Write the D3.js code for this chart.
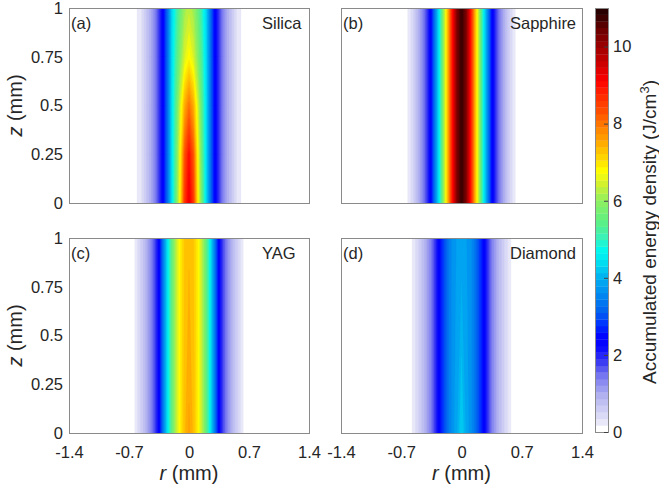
<!DOCTYPE html>
<html>
<head>
<meta charset="utf-8">
<script src="https://cdn.jsdelivr.net/npm/d3@7"></script>
<style>
  body { margin: 0; background: #fff; }
  svg { font-family: "Liberation Sans", Arial, sans-serif; }
</style>
</head>
<body>
<script>
var width = 659,
  height = 491;

// radial samples (mm); profiles are symmetric about r = 0
var rSamples = [0, 0.05, 0.1, 0.15, 0.2, 0.25, 0.3, 0.35, 0.4, 0.45, 0.5, 0.55, 0.6, 0.65, 0.7];

var materials = ["Silica", "Sapphire", "YAG", "Diamond"];
var tags = ["(a)", "(b)", "(c)", "(d)"];

// accumulated energy density (J/cm^3), one row per z level
var zSilica = [0, 0.25, 0.5, 0.75, 1];
var silica = [
  [9.3, 8.6, 6.9, 5.6, 4.4, 3.3, 2.4, 1.8, 1.3, 0.95, 0.65, 0.35, 0.2, 0, 0],
  [9.0, 8.3, 6.8, 5.5, 4.4, 3.3, 2.4, 1.8, 1.3, 0.95, 0.65, 0.35, 0.2, 0, 0],
  [8.0, 7.5, 6.5, 5.4, 4.4, 3.3, 2.4, 1.8, 1.3, 0.95, 0.65, 0.35, 0.2, 0, 0],
  [6.8, 6.5, 5.9, 5.2, 4.35, 3.3, 2.4, 1.8, 1.3, 0.95, 0.65, 0.35, 0.2, 0, 0],
  [6.3, 6.1, 5.6, 5.0, 4.3, 3.3, 2.4, 1.8, 1.3, 0.95, 0.65, 0.35, 0.2, 0, 0]
];
var zSapphire = [0, 1];
var sapphire = [
  [10.8, 10.3, 9.1, 7.6, 6.2, 4.8, 3.6, 2.5, 1.8, 1.3, 0.9, 0.55, 0.3, 0.05, 0],
  [10.8, 10.3, 9.1, 7.6, 6.2, 4.8, 3.6, 2.5, 1.8, 1.3, 0.9, 0.55, 0.3, 0.05, 0]
];
var zYag = [0, 1];
var yag = [
  [7.6, 7.35, 6.9, 6.3, 5.5, 4.5, 3.4, 2.3, 1.7, 1.25, 0.9, 0.6, 0.35, 0.08, 0],
  [7.35, 7.25, 6.9, 6.3, 5.5, 4.5, 3.4, 2.3, 1.7, 1.25, 0.9, 0.6, 0.35, 0.08, 0]
];
var zDiamond = [0, 1];
var diamond = [
  [4.3, 3.95, 3.7, 3.4, 2.95, 2.5, 1.9, 1.4, 1.05, 0.75, 0.5, 0.28, 0.05, 0, 0],
  [3.85, 3.8, 3.7, 3.4, 2.95, 2.5, 1.9, 1.4, 1.05, 0.75, 0.5, 0.28, 0.05, 0, 0]
];

var rTicks = [-1.4, -0.7, 0, 0.7, 1.4];
var zTicks = [0, 0.25, 0.5, 0.75, 1];
var cbTicks = [0, 2, 4, 6, 8, 10];
var cbMax = 11,
  nLevels = 64;

// white-to-jet colormap
var cmapStops = [0, 0.3, 0.96, 1.48, 1.83, 2.2, 2.45, 2.78, 3.12, 3.64, 4.0, 4.42, 4.7, 5.1, 5.5, 6.0, 6.42, 6.76, 7.1, 7.45, 7.9, 8.3, 8.75, 9.1, 9.53, 9.97, 10.4, 10.83, 11];
var cmapColors = ["#ffffff", "#e4e4f8", "#b0b0f0", "#7474f0", "#3838f2", "#0808ff", "#0000ff", "#0030ff", "#0060f0", "#0090f0", "#00b0f0", "#00e0f0", "#00f8f0", "#40f0b0", "#60f080", "#90f060", "#d0f030", "#ffff00", "#ffd800", "#ffb000", "#ff8000", "#ff5000", "#ff2800", "#ff0000", "#d00000", "#a00000", "#700000", "#300000", "#200000"];

var textColor = "#262626";

var cmap = d3.scaleLinear().domain(cmapStops).range(cmapColors).interpolate(d3.interpolateRgb);
var step = cbMax / nLevels;
var thresholds = d3.range(nLevels).map(function (k) { return k * step; });

var panels = [
  { z: zSilica, data: silica, col: 0, row: 0 },
  { z: zSapphire, data: sapphire, col: 1, row: 0 },
  { z: zYag, data: yag, col: 0, row: 1 },
  { z: zDiamond, data: diamond, col: 1, row: 1 }
];

var colX = [[69, 309], [341, 582]];
var rowY = [[8, 203], [238, 433]];
var nameX = [262, 510];

var svg = d3.select("body").append("svg")
  .attr("width", width)
  .attr("height", height);

var defs = svg.append("defs");

// full mirrored radial columns
var rCols = rSamples.slice(1).reverse().map(function (r) { return -r; }).concat(rSamples);
var dr = rSamples[1] - rSamples[0];

function bandColor(v) {
  // lowest band is plain white, as in the colorbar
  return v < step ? "#ffffff" : cmap(v + step / 2);
}

panels.forEach(function (p, i) {
  var x0 = colX[p.col][0], x1 = colX[p.col][1];
  var y0 = rowY[p.row][0], y1 = rowY[p.row][1];

  var x = d3.scaleLinear().domain([-1.4, 1.4]).range([x0, x1]);
  var y = d3.scaleLinear().domain([0, 1]).range([y1, y0]);

  // grid table for d3.contours
  var n = rCols.length, m = p.z.length;
  var values = [];
  p.data.forEach(function (row) {
    rCols.forEach(function (r, k) {
      var idx = Math.abs(k - (rSamples.length - 1));
      values.push(row[idx]);
    });
  });
  var dz = p.z[1] - p.z[0];

  var proj = d3.geoTransform({
    point: function (px, py) {
      this.stream.point(x(rCols[0] + (px - 0.5) * dr), y(p.z[0] + (py - 0.5) * dz));
    }
  });
  var path = d3.geoPath(proj);

  var contours = d3.contours().size([n, m]).thresholds(thresholds.slice(1))(values);

  defs.append("clipPath").attr("id", "clip" + i)
    .append("rect")
    .attr("x", x0).attr("y", y0)
    .attr("width", x1 - x0).attr("height", y1 - y0);

  var g = svg.append("g");

  g.append("g")
    .attr("clip-path", "url(#clip" + i + ")")
    .selectAll("path")
    .data(contours)
    .enter()
    .append("path")
    .attr("d", path)
    .attr("fill", function (d) { return bandColor(d.value); })
    .attr("stroke", function (d) { return bandColor(d.value); })
    .attr("stroke-width", 0.3);

  g.append("rect")
    .attr("x", x0 + 0.5).attr("y", y0 + 0.5)
    .attr("width", x1 - x0).attr("height", y1 - y0)
    .attr("fill", "none")
    .attr("stroke", "#8a8a8a")
    .attr("stroke-width", 1);

  if (p.col === 0) {
    var ya = g.append("g")
      .attr("transform", "translate(" + x0 + ",0)")
      .call(d3.axisLeft(y).tickValues(zTicks).tickSize(0).tickPadding(6)
        .tickFormat(function (d) { return String(d); }));
    ya.select(".domain").remove();
    ya.selectAll("text").attr("fill", textColor).style("font-size", "16.5px")
      .style("font-family", "'Liberation Sans', Arial, sans-serif");

    var zl = g.append("text")
      .attr("transform", "translate(22," + (y0 + y1) / 2 + ") rotate(-90)")
      .attr("text-anchor", "middle")
      .attr("fill", textColor)
      .style("font-size", "20px");
    zl.append("tspan").style("font-style", "italic").text("z");
    zl.append("tspan").text(" (mm)");
  }

  if (p.row === 1) {
    var xa = g.append("g")
      .attr("transform", "translate(0," + y1 + ")")
      .call(d3.axisBottom(x).tickValues(rTicks).tickSize(0).tickPadding(13)
        .tickFormat(function (d) { return String(d).replace("\u2212", "-"); }));
    xa.select(".domain").remove();
    xa.selectAll("text").attr("fill", textColor).style("font-size", "16.5px")
      .style("font-family", "'Liberation Sans', Arial, sans-serif");

    var rl = g.append("text")
      .attr("x", (x0 + x1) / 2)
      .attr("y", 480)
      .attr("text-anchor", "middle")
      .attr("fill", textColor)
      .style("font-size", "20px");
    rl.append("tspan").style("font-style", "italic").text("r");
    rl.append("tspan").text(" (mm)");
  }

  g.append("text")
    .attr("x", x0 + 2)
    .attr("y", y0 + 21)
    .attr("fill", textColor)
    .style("font-size", "16.5px")
    .text(tags[i]);

  g.append("text")
    .attr("x", nameX[p.col])
    .attr("y", y0 + 21)
    .attr("fill", textColor)
    .style("font-size", "16.5px")
    .text(materials[i]);
});

// colorbar
var cbX0 = 595, cbX1 = 608, cbTop = 8, cbBottom = 432;
var cb = d3.scaleLinear().domain([0, cbMax]).range([cbBottom, cbTop]);

svg.append("g")
  .selectAll("rect")
  .data(thresholds)
  .enter()
  .append("rect")
  .attr("x", cbX0)
  .attr("y", function (d) { return cb(d + step); })
  .attr("width", cbX1 - cbX0)
  .attr("height", function (d) { return cb(d) - cb(d + step) + 0.3; })
  .attr("fill", function (d) { return bandColor(d); });

svg.append("rect")
  .attr("x", cbX0 + 0.5).attr("y", cbTop + 0.5)
  .attr("width", cbX1 - cbX0).attr("height", cbBottom - cbTop)
  .attr("fill", "none")
  .attr("stroke", "#8a8a8a");

var cba = svg.append("g")
  .attr("transform", "translate(" + cbX1 + ",0)")
  .call(d3.axisRight(cb).tickValues(cbTicks).tickSizeInner(-4).tickSizeOuter(0).tickPadding(5));
cba.select(".domain").remove();
cba.selectAll("line").attr("stroke", "#404040");
cba.selectAll("text").attr("fill", textColor).style("font-size", "16.5px")
  .style("font-family", "'Liberation Sans', Arial, sans-serif");

var cbl = svg.append("text")
  .attr("transform", "translate(656,232) rotate(-90)")
  .attr("text-anchor", "middle")
  .attr("fill", textColor)
  .style("font-size", "19px");
cbl.append("tspan").text("Accumulated energy density (J/cm");
cbl.append("tspan").attr("baseline-shift", "super").style("font-size", "13px").text("3");
cbl.append("tspan").text(")");
</script>
</body>
</html>
